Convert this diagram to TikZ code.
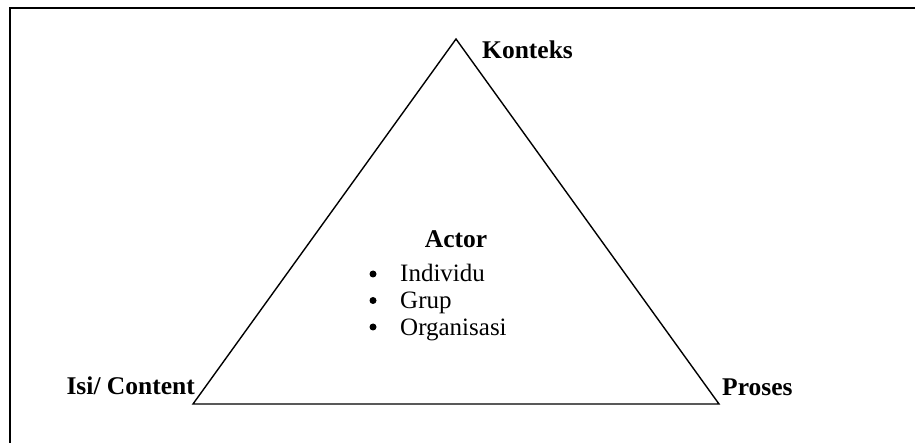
\documentclass[tikz,border=0pt]{standalone}
\usepackage{fontspec}
\setmainfont{Liberation Serif}
\usetikzlibrary{positioning}
\tikzset{corner/.style = {font=\bfseries\fontsize{25.5}{27}\selectfont, inner sep=0pt},
         entry/.style  = {font=\fontsize{25}{27}\selectfont, inner sep=0pt, anchor=base west},
         dot/.style    = {circle, fill, inner sep=0pt, minimum size=7pt}}

\begin{document}
\begin{tikzpicture}[x=1pt, y=-1pt]
    \useasboundingbox (0, 0) rectangle (915, 443);
    \draw [line width=2.2pt] (10, 443) -- (10, 8) -- (915, 8);

    \coordinate (top) at (456, 39);
    \coordinate (left) at (193, 404);
    \coordinate (right) at (719, 404);
    \draw [line width=1.4pt, line join=miter] (left) -- (top) -- (right) -- cycle;

    \node [corner, anchor=base west] (konteks) at (482, 59) {Konteks};
    \node [corner, anchor=base east] (isi) at (195, 394) {Isi/ Content};
    \node [corner, anchor=base west] (proses) at (722, 395) {Proses};

    \node [corner, anchor=base] (actor) at (456, 248) {Actor};
    \foreach \t [count=\i] in {Individu,Grup,Organisasi} {
      \pgfmathsetmacro\y{282 + 26.5 * (\i - 1)};
      \node [entry] (item\i) at (400, \y) {\t};
      \node [dot] (bullet\i) at (373, \y - 8) {};
    }
  \end{tikzpicture}
\end{document}
